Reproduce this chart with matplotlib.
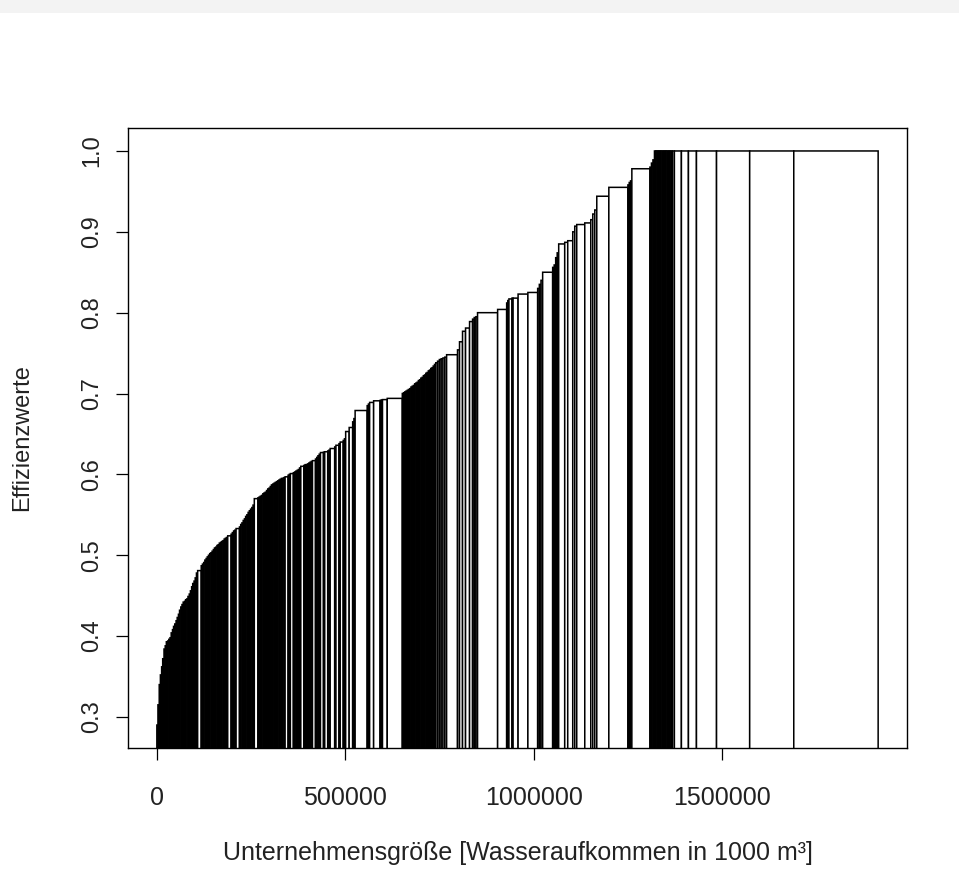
import matplotlib
matplotlib.use('Agg')
import matplotlib.pyplot as plt
from matplotlib.patches import Rectangle
import numpy as np

plt.rcParams['font.family'] = ['Liberation Sans', 'DejaVu Sans']

# Unternehmensgröße (Wasseraufkommen in 1000 m³), sorted by efficiency
groesse = [
    2900, 3400, 3100, 3300, 2800, 3500, 3200, 3000, 3600, 2900, 3300, 3100, 3400, 2800, 3200, 3500, 3000,
    3300, 2900, 3400, 3100, 3200, 3600, 2800, 3300, 3000, 3400, 3100, 3200, 2900, 3500, 3100, 3300, 3200,
    9500,
    3200, 3300, 3100, 3400, 3000, 3200, 3300, 3100, 3200, 3400, 3000, 3200, 3300, 3100, 3200, 3400, 3000,
    3200, 3300, 3100, 3200, 3100,
    9000,
    3300, 3400, 3200, 3300,
    9000,
    3300, 3200, 3400, 3300, 3100, 3300, 3400, 3200, 3300, 3300, 3200, 3400,
    9500,
    3300, 3200, 3400, 3300, 3100, 3300, 3400, 3200, 3300, 3300, 3200, 3400, 3300, 3200, 3400, 3300,
    3100, 3300, 3400, 3200, 3300, 3300,
    8000,
    3000, 3000,
    8000,
    3300, 3200, 3400, 3300, 3200, 3300,
    8000,
    3300, 3200, 3400, 3300, 3200, 3300, 3300,
    8000,
    3300, 3200, 3400, 3300,
    8000,
    3300,
    8000,
    3300, 3200,
    12000, 3300, 8000, 3300, 8000,
    3300, 3200,
    9300, 9300,
    3300, 3200,
    32000,
    3300, 3200,
    10650, 17000,
    3300, 3200,
    12600, 40000,
    3300, 3200, 3300,
    3300, 3200, 3400, 3300, 3200, 3300, 3300, 3400, 3200, 3300, 3300, 3200, 3400, 3300, 3200, 3300,
    3300, 3400, 3200, 3300, 3300, 3200, 3400, 3300,
    4800, 4800, 4800, 4800, 4800, 4800,
    29000, 5300, 8000, 8000, 10650, 8000,
    4400, 4400, 4400,
    53300, 24000,
    3000, 3000,
    8000, 3000, 13300, 26000, 26000,
    4400, 4400, 4400,
    26600,
    4000, 4000, 4000, 4000,
    16000, 8000, 13300,
    5300, 5300,
    21300, 16000,
    5300, 5300, 5300,
    32000, 50600,
    3500, 3500, 3500,
    48000,
    4000, 4000, 4000,
    3300, 3300, 3300, 3300, 3300, 3300, 3300, 3300, 3300, 3300, 3300, 3300,
    4000, 4000, 5300, 18650, 18650, 21300, 53300, 88000, 117000, 224000,
]

# Effizienzwerte (ascending)
effizienz = [
    0.290, 0.315, 0.340, 0.352, 0.362, 0.372, 0.384, 0.388, 0.393, 0.394, 0.396, 0.398, 0.404, 0.408, 0.412,
    0.415, 0.419, 0.423, 0.427, 0.432, 0.436, 0.439, 0.442, 0.443, 0.445, 0.446, 0.449, 0.452, 0.456, 0.461,
    0.465, 0.468, 0.472, 0.478,
    0.481,
    0.487, 0.489, 0.491, 0.494, 0.496, 0.498, 0.500, 0.502, 0.503, 0.505, 0.507, 0.509, 0.510, 0.512, 0.513,
    0.515, 0.516, 0.517, 0.518, 0.520, 0.521, 0.522,
    0.524,
    0.526, 0.528, 0.530, 0.531,
    0.533,
    0.535, 0.538, 0.540, 0.543, 0.545, 0.548, 0.550, 0.553, 0.555, 0.557, 0.559, 0.562,
    0.570,
    0.571, 0.572, 0.573, 0.574, 0.576, 0.577, 0.578, 0.580, 0.582, 0.583, 0.585, 0.587, 0.588, 0.589, 0.590,
    0.591, 0.592, 0.593, 0.594, 0.595, 0.595, 0.596,
    0.597,
    0.599, 0.600,
    0.601,
    0.602, 0.603, 0.604, 0.605, 0.606, 0.608,
    0.610,
    0.611, 0.612, 0.612, 0.613, 0.614, 0.615, 0.616,
    0.617,
    0.619, 0.621, 0.623, 0.625,
    0.627,
    0.6275,
    0.628,
    0.629, 0.630,
    0.632, 0.634, 0.636, 0.638, 0.640,
    0.642, 0.644,
    0.653, 0.658,
    0.665, 0.669,
    0.679,
    0.685, 0.687,
    0.689, 0.691,
    0.6915, 0.692,
    0.6925, 0.694,
    0.700, 0.701, 0.702,
    0.703, 0.704, 0.705, 0.706, 0.708, 0.709, 0.710, 0.712, 0.713, 0.714, 0.716, 0.717, 0.719, 0.720, 0.722,
    0.723, 0.725, 0.726, 0.728, 0.729, 0.731, 0.732, 0.734, 0.736,
    0.738, 0.740, 0.742, 0.743, 0.744, 0.745,
    0.748, 0.754, 0.764, 0.777, 0.781, 0.789,
    0.792, 0.794, 0.795,
    0.800, 0.804,
    0.812, 0.815,
    0.817, 0.818, 0.818, 0.823, 0.825,
    0.830, 0.835, 0.840,
    0.850,
    0.856, 0.859, 0.868, 0.874,
    0.885, 0.887, 0.889,
    0.900, 0.907,
    0.909, 0.911,
    0.915, 0.922, 0.927,
    0.944, 0.955,
    0.958, 0.961, 0.963,
    0.978,
    0.980, 0.985, 0.989,
    1.0, 1.0, 1.0, 1.0, 1.0, 1.0, 1.0, 1.0, 1.0, 1.0, 1.0, 1.0,
    1.0, 1.0, 1.0, 1.0, 1.0, 1.0, 1.0, 1.0, 1.0, 1.0,
]
assert len(groesse) == len(effizienz)

x_ticks = [0, 500000, 1000000, 1500000]
x_ticklabels = ['0', '500000', '1000000', '1500000']
y_ticks = [0.3, 0.4, 0.5, 0.6, 0.7, 0.8, 0.9, 1.0]
y_ticklabels = ['0.3', '0.4', '0.5', '0.6', '0.7', '0.8', '0.9', '1.0']
x_title = 'Unternehmensgröße [Wasseraufkommen in 1000 m³]'
y_title = 'Effizienzwerte'

W, H = 959, 886
fig = plt.figure(figsize=(W / 100, H / 100), dpi=100)
fig.patches.append(Rectangle((0, 1 - 12.5 / H), 1, 12.5 / H, transform=fig.transFigure,
                             facecolor='#f3f3f3', edgecolor='none', zorder=0))
ax = fig.add_axes([128 / W, 1 - 748 / H, (907 - 128) / W, (748 - 128) / H])

g = np.array(groesse, dtype=float)
e = np.array(effizienz, dtype=float)
left = np.concatenate([[0.0], np.cumsum(g)[:-1]])
bars = ax.bar(left, e, width=g, align='edge', bottom=0, color='white', edgecolor='black', linewidth=1.1)
for b in bars:
    b.set_snap(False)

total = g.sum()
ax.set_xlim(-0.04 * total, 1.04 * total)
ymin = e.min()
r = 1.0 - ymin
ax.set_ylim(ymin - 0.04 * r, 1.0 + 0.04 * r)

fsx = 18
fsy = 17
ax.set_xticks(x_ticks)
ax.set_xticklabels(x_ticklabels, fontsize=fsx, color='#222222')
ax.set_yticks(y_ticks)
ax.set_yticklabels(y_ticklabels, fontsize=fsy, color='#222222', rotation=90, va='center')
ax.tick_params(axis='both', direction='out', length=8.6, width=0.9, color='black')
ax.tick_params(axis='x', pad=19)
ax.tick_params(axis='y', pad=9)
for s in ax.spines.values():
    s.set_linewidth(1.0)
    s.set_color('black')

fig.text(517.5 / W, 1 - 853 / H, x_title, ha='center', va='center', fontsize=fsx, color='#222222')
fig.text(22 / W, 1 - 438 / H, y_title, ha='center', va='center', rotation=90, fontsize=fsy, color='#222222')

fig.savefig('out.png', dpi=100)
